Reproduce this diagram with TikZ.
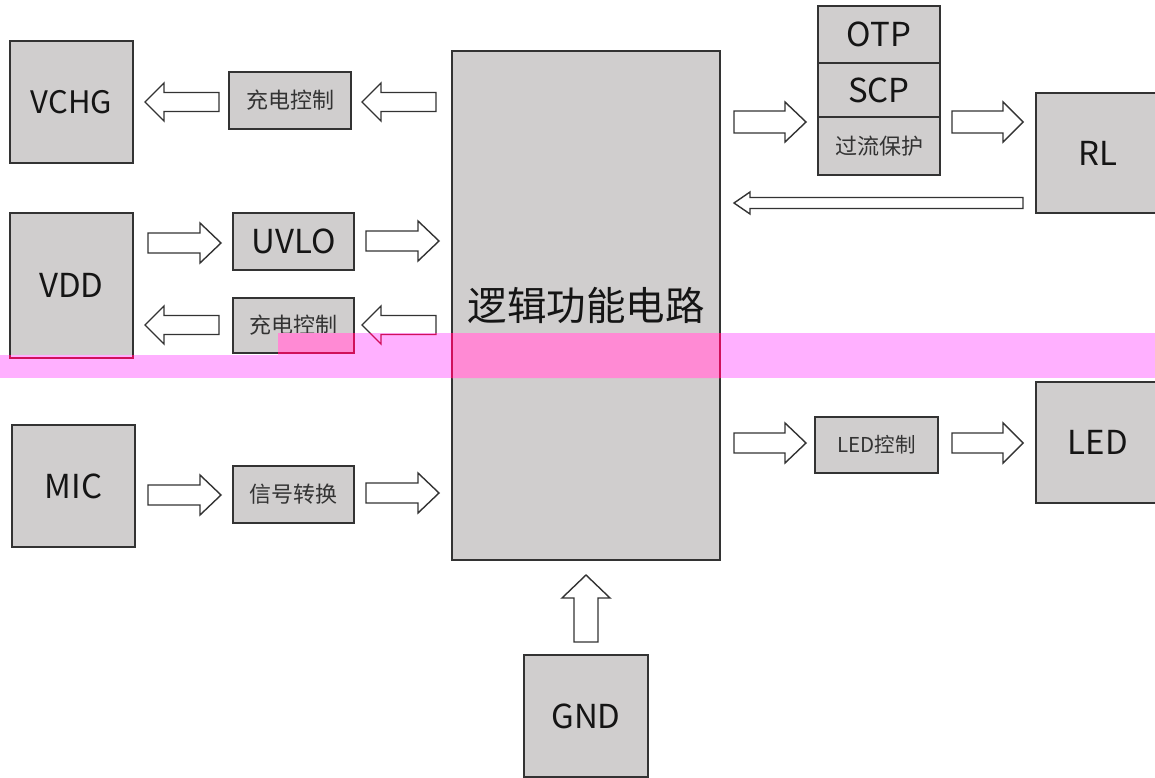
\documentclass[tikz,border=0pt]{standalone}
\usepackage{fontspec}
\setmainfont{Noto Sans CJK SC}
\definecolor{boxgray}{HTML}{D0CECE}
\definecolor{edge}{HTML}{333333}
\definecolor{ink}{HTML}{151515}
\definecolor{smallink}{HTML}{333333}
\definecolor{bandpink}{HTML}{FFB0FF}
\definecolor{bandbox}{HTML}{FF8AD4}
\definecolor{bandline}{HTML}{D0105A}
\tikzset{
  blk/.style={draw=edge, fill=boxgray, line width=1.6pt, inner sep=0pt, outer sep=0pt, anchor=north west, text=ink},
  big/.style={font=\fontsize{33}{33}\selectfont},
  small/.style={font=\fontsize{22}{22}\selectfont, text=smallink},
  barrow/.style={draw=edge, fill=white, line width=1.4pt, line join=miter},
}
\newcommand{\harrow}[7][]{%
  \draw[barrow,#1] (#2,#5-#6) -- (#3,#5-#6) -- (#3,#5-#7) -- (#4,#5) -- (#3,#5+#7) -- (#3,#5+#6) -- (#2,#5+#6) -- cycle;}
\begin{document}
\begin{tikzpicture}[x=1pt,y=-1pt]
\clip (0,0) rectangle (1155,778);
\fill[white] (0,0) rectangle (1155,778);
% boxes
\node[blk, big, font=\fontsize{31}{31}\selectfont, minimum width=123pt, minimum height=122pt] (vchg) at (10,41) {VCHG};
\node[blk, small, minimum width=122pt, minimum height=57pt] (cca) at (229,72) {充电控制};
\node[blk, font=\fontsize{39.5}{40}\selectfont, minimum width=268pt, minimum height=509pt] (main) at (452,51) {逻辑功能电路};
\node[blk, big, minimum width=123pt, minimum height=145pt] (vdd) at (10,213) {\raisebox{-3pt}{VDD}};
\node[blk, big, minimum width=121pt, minimum height=57pt] (uvlo) at (233,213) {UVLO};
\node[blk, small, minimum width=121pt, minimum height=55pt] (ccb) at (233,298) {充电控制};
\node[blk, big, minimum width=123pt, minimum height=122pt] (mic) at (12,425) {\raisebox{-2pt}{MIC}};
\node[blk, small, minimum width=121pt, minimum height=57pt] (sig) at (233,466) {信号转换};
\node[blk, big, minimum width=122pt, minimum height=57pt] (otp) at (818,6) {OTP};
\node[blk, big, minimum width=122pt, minimum height=54pt] (scp) at (818,63) {SCP};
\node[blk, small, minimum width=122pt, minimum height=58pt] (ocp) at (818,117) {过流保护};
\node[blk, big, minimum width=124pt, minimum height=120pt] (rl) at (1036,93) {RL};
\node[blk, small, font=\fontsize{20.5}{21}\selectfont, minimum width=123pt, minimum height=56pt] (ledc) at (815,417) {LED控制};
\node[blk, big, minimum width=124pt, minimum height=121pt] (led) at (1036,382) {LED};
\node[blk, big, minimum width=124pt, minimum height=122pt] (gnd) at (524,655) {GND};
% block arrows
\harrow{219}{164}{145}{102}{9.5}{19}
\harrow{436}{381}{362}{102}{9.5}{19}
\harrow{148}{200}{221}{243}{10}{20}
\harrow{366}{418}{439}{241}{10}{20}
\harrow{219}{164}{145}{325}{9.5}{19}
\harrow{436}{381}{362}{325}{9.5}{19}
\harrow{148}{200}{221}{495}{10}{20}
\harrow{366}{418}{439}{493}{10}{20}
\harrow{734}{785}{806}{122}{11}{20}
\harrow{952}{1003}{1023}{122}{11}{20}
\harrow{1023}{750}{734}{203}{5.5}{11}
\harrow{734}{785}{806}{443}{10}{20}
\harrow{952}{1003}{1023}{443}{10}{20}
\draw[barrow] (574,642) -- (574,598) -- (562,598) -- (586,575) -- (610,598) -- (598,598) -- (598,642) -- cycle;
% pink band
\begin{scope}
  \clip (0,355) rectangle (1155,378) (278,333) rectangle (1155,355);
  \fill[bandpink] (0,333) rectangle (1155,378);
  \fill[bandbox] (main.north west) rectangle (main.south east);
  \fill[bandbox] (ccb.north west) rectangle (ccb.south east);
  \draw[bandline, line width=1.6pt] (main.north west) rectangle (main.south east);
  \draw[bandline, line width=1.6pt] (ccb.north west) rectangle (ccb.south east);
  \draw[bandline, line width=1.6pt] (vdd.north west) rectangle (vdd.south east);
  \harrow[draw=bandline, fill=bandpink]{436}{381}{362}{325}{9.5}{19}
\end{scope}
\end{tikzpicture}
\end{document}
